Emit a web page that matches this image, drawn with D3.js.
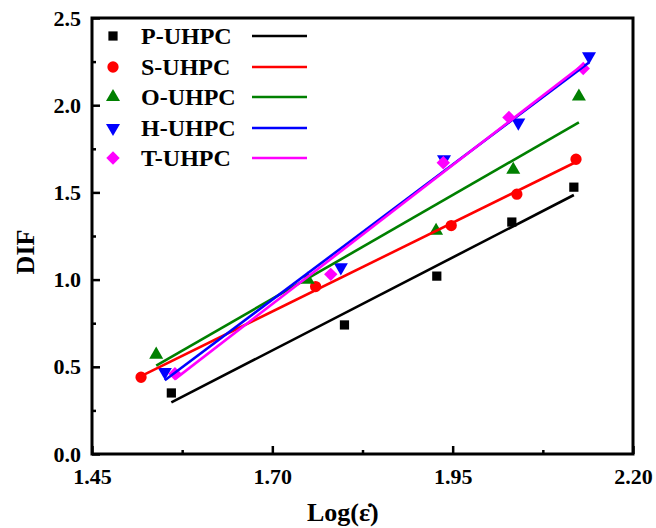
<!DOCTYPE html>
<html>
<head>
<meta charset="utf-8">
<title>DIF vs log strain rate</title>
<script src="https://d3js.org/d3.v7.min.js"></script>
<style>
  body { margin: 0; background: #fff; }
  text { font-family: "Liberation Serif", "Times New Roman", serif; font-weight: bold; fill: #000; }
</style>
</head>
<body>
<svg id="chart" width="656" height="528"></svg>
<script>
// series
var seriesNames = ["P-UHPC", "S-UHPC", "O-UHPC", "H-UHPC", "T-UHPC"];
var seriesColors = ["#000000", "#ff0000", "#008000", "#0000ff", "#ff00ff"];

var logRateP = [1.56, 1.80, 1.928, 2.032, 2.118];
var difP     = [0.35, 0.74, 1.02, 1.33, 1.53];
var logRateS = [1.518, 1.760, 1.948, 2.039, 2.121];
var difS     = [0.44, 0.96, 1.31, 1.49, 1.69];
var logRateO = [1.539, 1.749, 1.927, 2.034, 2.125];
var difO     = [0.57, 1.00, 1.28, 1.63, 2.05];
var logRateH = [1.551, 1.795, 1.938, 2.041, 2.139];
var difH     = [0.47, 1.07, 1.69, 1.90, 2.28];
var logRateT = [1.565, 1.781, 1.937, 2.028, 2.131];
var difT     = [0.46, 1.03, 1.67, 1.93, 2.21];

var xTicks = [1.45, 1.70, 1.95, 2.20];
var yTicks = [0.0, 0.5, 1.0, 1.5, 2.0, 2.5];

var xs = [logRateP, logRateS, logRateO, logRateH, logRateT];
var ys = [difP, difS, difO, difH, difT];

var series = seriesNames.map(function(name, i) {
  return {
    name: name,
    color: seriesColors[i],
    points: xs[i].map(function(x, j) { return {x: x, y: ys[i][j]}; })
  };
});

var svg = d3.select("#chart");
var margin = {left: 92, right: 23, top: 18, bottom: 74};
var W = 656, H = 528;

var x = d3.scaleLinear().domain([1.45, 2.20]).range([margin.left, W - margin.right]);
var y = d3.scaleLinear().domain([0, 2.5]).range([H - margin.bottom, margin.top]);

// marker shapes
var symbols = [
  {type: d3.symbolSquare, size: 85, rot: 0},
  {type: d3.symbolCircle, size: 100, rot: 0},
  {type: d3.symbolTriangle, size: 85, rot: 0},
  {type: d3.symbolTriangle, size: 85, rot: 180},
  {type: d3.symbolSquare, size: 90, rot: 45}
];

function symPath(i) { return d3.symbol().type(symbols[i].type).size(symbols[i].size)(); }

// least squares fit across the range of each series
function fit(pts) {
  var mx = d3.mean(pts, function(d) { return d.x; });
  var my = d3.mean(pts, function(d) { return d.y; });
  var sxy = d3.sum(pts, function(d) { return (d.x - mx) * (d.y - my); });
  var sxx = d3.sum(pts, function(d) { return (d.x - mx) * (d.x - mx); });
  var b = sxy / sxx, a = my - b * mx;
  var ext = d3.extent(pts, function(d) { return d.x; });
  return ext.map(function(v) { return {x: v, y: a + b * v}; });
}

// points
series.forEach(function(s, i) {
  svg.append("g").selectAll("path")
    .data(s.points)
    .enter().append("path")
      .attr("d", symPath(i))
      .attr("fill", s.color)
      .attr("transform", function(d) {
        return "translate(" + x(d.x) + "," + y(d.y) + ") rotate(" + symbols[i].rot + ")";
      });
});

// fit lines
var line = d3.line().x(function(d) { return x(d.x); }).y(function(d) { return y(d.y); });
series.forEach(function(s) {
  svg.append("path")
    .datum(fit(s.points))
    .attr("d", line)
    .attr("fill", "none")
    .attr("stroke", s.color)
    .attr("stroke-width", 2.6);
});

// axes (ticks pointing inward)
var xAxis = svg.append("g")
  .attr("transform", "translate(0," + (H - margin.bottom) + ")")
  .call(d3.axisBottom(x).tickValues(xTicks).tickFormat(d3.format(".2f")).tickSizeInner(-8).tickSizeOuter(0).tickPadding(14));
var xMinor = svg.append("g")
  .attr("transform", "translate(0," + (H - margin.bottom) + ")")
  .call(d3.axisBottom(x).tickValues([1.575, 1.825, 2.075]).tickFormat("").tickSizeInner(-4).tickSizeOuter(0));

var yAxis = svg.append("g")
  .attr("transform", "translate(" + margin.left + ",0)")
  .call(d3.axisLeft(y).tickValues(yTicks).tickFormat(d3.format(".1f")).tickSizeInner(-8).tickSizeOuter(0).tickPadding(11));
var yMinor = svg.append("g")
  .attr("transform", "translate(" + margin.left + ",0)")
  .call(d3.axisLeft(y).tickValues([0.25, 0.75, 1.25, 1.75, 2.25]).tickFormat("").tickSizeInner(-4).tickSizeOuter(0));

[xAxis, xMinor, yAxis, yMinor].forEach(function(g) {
  g.select(".domain").remove();
  g.selectAll(".tick line").attr("stroke", "#000").attr("stroke-width", 2.5);
  g.selectAll(".tick text").style("font-size", "22px").style("font-family", "Liberation Serif").style("font-weight", "bold");
});

// frame
svg.append("rect")
  .attr("x", margin.left).attr("y", margin.top)
  .attr("width", W - margin.left - margin.right)
  .attr("height", H - margin.top - margin.bottom)
  .attr("fill", "none").attr("stroke", "#000").attr("stroke-width", 3);

// axis titles
svg.append("text")
  .attr("transform", "translate(34,252) rotate(-90)")
  .attr("text-anchor", "middle")
  .style("font-size", "26px")
  .text("DIF");

svg.append("text")
  .attr("x", 307).attr("y", 521)
  .style("font-size", "26px")
  .text("Log(\u03b5\u0307)");

// legend
var legend = svg.append("g");
var rowY = [36, 67, 97, 128, 158];
series.forEach(function(s, i) {
  var g = legend.append("g").attr("transform", "translate(0," + rowY[i] + ")");
  g.append("path")
    .attr("d", symPath(i))
    .attr("fill", s.color)
    .attr("transform", "translate(113,0) rotate(" + symbols[i].rot + ")");
  g.append("text")
    .attr("x", 141).attr("y", 8)
    .style("font-size", "24px")
    .text(s.name);
  g.append("line")
    .attr("x1", 252).attr("x2", 307)
    .attr("stroke", s.color).attr("stroke-width", 2.6);
});
</script>
</body>
</html>
